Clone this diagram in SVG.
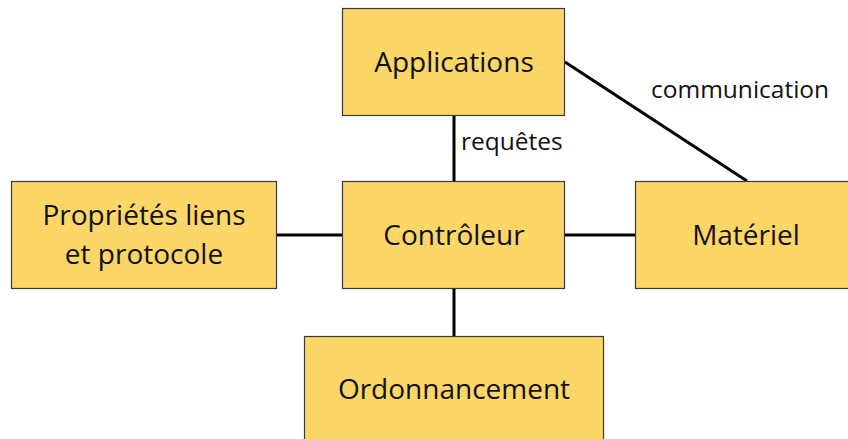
<svg xmlns="http://www.w3.org/2000/svg" width="848" height="439" viewBox="0 0 848 439">
<style>
.box{fill:#FCD667;stroke:#3a3a3a;stroke-width:1.2}
.t{font-family:"Open Sans","Liberation Sans",sans-serif;font-size:28px;fill:#111;text-anchor:middle}
.l{font-family:"Open Sans","Liberation Sans",sans-serif;font-size:24.5px;fill:#111}
.c{stroke:#000;stroke-width:3;fill:none}
</style>
<rect width="848" height="439" fill="#fff"/>
<g id="connectors">
<line class="c" x1="454" y1="115" x2="454" y2="181"/>
<line class="c" x1="277" y1="235" x2="342" y2="235"/>
<line class="c" x1="565" y1="235" x2="635" y2="235"/>
<line class="c" x1="454" y1="288" x2="454" y2="336"/>
<line class="c" x1="565" y1="62" x2="747" y2="181"/>
<text class="l" x="461" y="150">requêtes</text>
<text class="l" x="651" y="98">communication</text>
</g>
<g id="applications">
<rect class="box" x="342.5" y="8.5" width="222" height="107"/>
<text class="t" x="454" y="72">Applications</text>
</g>
<g id="proprietes">
<rect class="box" x="11.5" y="181.5" width="265" height="107"/>
<text class="t" x="144" y="225">Propriétés liens</text>
<text class="t" x="144" y="264">et protocole</text>
</g>
<g id="controleur">
<rect class="box" x="342.5" y="181.5" width="222" height="107"/>
<text class="t" x="454" y="245">Contrôleur</text>
</g>
<g id="materiel">
<rect class="box" x="635.5" y="181.5" width="230" height="107"/>
<text class="t" x="746" y="245">Matériel</text>
</g>
<g id="ordonnancement">
<rect class="box" x="304.5" y="336.5" width="299" height="120"/>
<text class="t" x="454" y="399">Ordonnancement</text>
</g>
</svg>
